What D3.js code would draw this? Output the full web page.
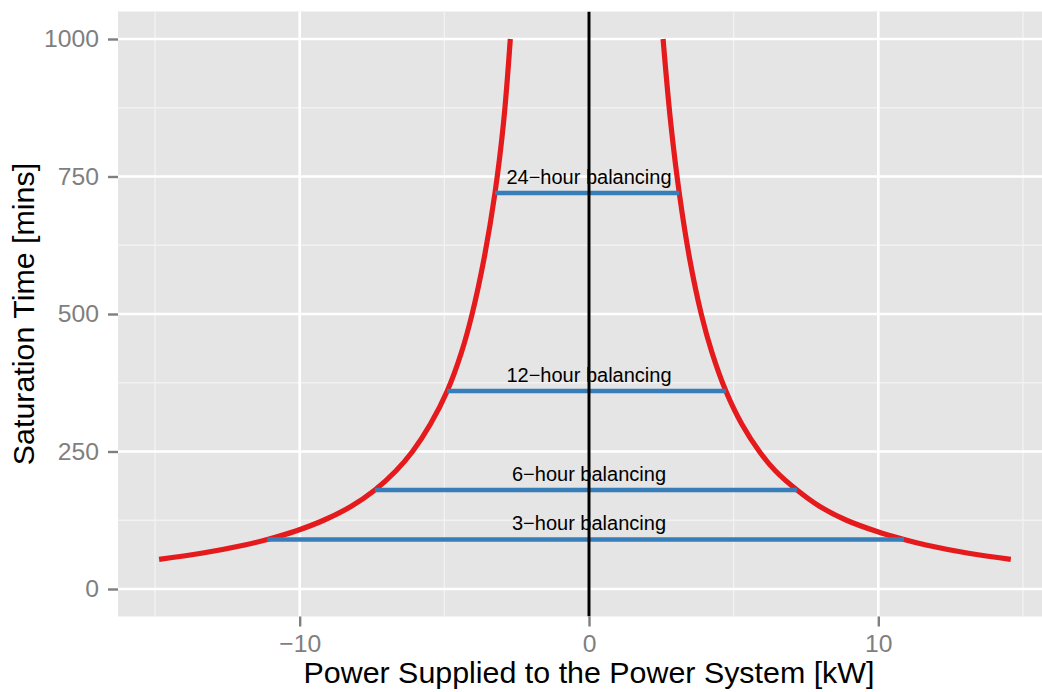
<!DOCTYPE html>
<html>
<head>
<meta charset="utf-8">
<script src="https://cdn.jsdelivr.net/npm/d3@7"></script>
<style>
  html, body { margin: 0; padding: 0; background: #fff; }
  svg { display: block; }
  text { font-family: "Liberation Sans", Arial, Helvetica, sans-serif; }
</style>
</head>
<body>
<svg id="chart" width="1042" height="692"></svg>
<script>
// ---- data ----
// left branch (negative kW): power and saturation time
const leftPower = [-14.86, -13.40, -11.90, -11.12, -10.16, -9.17, -8.23, -7.40, -6.67, -6.10, -5.48, -4.90, -4.41, -4.04, -3.63, -3.25, -2.95, -2.72];
const leftTime  = [54, 65, 80, 90, 105, 125, 150, 180, 215, 250, 300, 360, 430, 500, 600, 720, 850, 1000];
// right branch (positive kW)
const rightPower = [14.58, 13.12, 11.65, 10.89, 9.93, 8.90, 7.98, 7.19, 6.44, 5.89, 5.28, 4.73, 4.25, 3.88, 3.48, 3.12, 2.82, 2.56];
const rightTime  = [54, 65, 80, 90, 105, 125, 150, 180, 215, 250, 300, 360, 430, 500, 600, 720, 850, 1000];
// balancing segments
const balanceLabels = ["3\u2212hour balancing", "6\u2212hour balancing", "12\u2212hour balancing", "24\u2212hour balancing"];
const balanceTime   = [90, 180, 360, 720];
const balanceLeft   = [-11.12, -7.40, -4.90, -3.25];
const balanceRight  = [10.89, 7.19, 4.73, 3.12];
// axis ticks
const xTicks = [-10, 0, 10];
const xMinor = [-15, -5, 5, 15];
const yTicks = [0, 250, 500, 750, 1000];
const yMinor = [125, 375, 625, 875];

// ---- layout ----
const svg = d3.select("#chart");
const panel = { left: 118, right: 1060, top: 11.5, bottom: 616.5 };
const x = d3.scaleLinear().domain([-16.28, 16.28]).range([panel.left, panel.right]);
const y = d3.scaleLinear().domain([-50, 1050]).range([panel.bottom, panel.top]);

const grey50 = "#7f7f7f";

// panel background
svg.append("rect")
  .attr("x", panel.left).attr("y", panel.top)
  .attr("width", panel.right - panel.left).attr("height", panel.bottom - panel.top)
  .attr("fill", "#e5e5e5");

const grid = svg.append("g");
// minor grid
grid.selectAll(".ymin").data(yMinor).enter().append("line")
  .attr("x1", panel.left).attr("x2", panel.right)
  .attr("y1", d => y(d)).attr("y2", d => y(d))
  .attr("stroke", "#f2f2f2").attr("stroke-width", 1.3);
grid.selectAll(".xmin").data(xMinor).enter().append("line")
  .attr("y1", panel.top).attr("y2", panel.bottom)
  .attr("x1", d => x(d)).attr("x2", d => x(d))
  .attr("stroke", "#f2f2f2").attr("stroke-width", 1.3);
// major grid
grid.selectAll(".ymaj").data(yTicks).enter().append("line")
  .attr("x1", panel.left).attr("x2", panel.right)
  .attr("y1", d => y(d)).attr("y2", d => y(d))
  .attr("stroke", "#ffffff").attr("stroke-width", 2.6);
grid.selectAll(".xmaj").data(xTicks).enter().append("line")
  .attr("y1", panel.top).attr("y2", panel.bottom)
  .attr("x1", d => x(d)).attr("x2", d => x(d))
  .attr("stroke", "#ffffff").attr("stroke-width", 2.6);

// axes
const xAxis = d3.axisBottom(x).tickValues(xTicks).tickSize(10).tickPadding(8)
  .tickFormat(d => d < 0 ? "\u2212" + Math.abs(d) : String(d));
const gx = svg.append("g").attr("transform", `translate(0,${panel.bottom})`).call(xAxis);
gx.select(".domain").remove();
gx.selectAll(".tick line").attr("stroke", grey50).attr("stroke-width", 2.4);
gx.selectAll(".tick text").attr("fill", grey50).attr("font-size", 24.7)
  .attr("font-family", "Liberation Sans, Arial, sans-serif");

const yAxis = d3.axisLeft(y).tickValues(yTicks).tickSize(10).tickPadding(9).tickFormat(d3.format("d"));
const gy = svg.append("g").attr("transform", `translate(${panel.left},0)`).call(yAxis);
gy.select(".domain").remove();
gy.selectAll(".tick line").attr("stroke", grey50).attr("stroke-width", 2.4);
gy.selectAll(".tick text").attr("fill", grey50).attr("font-size", 24.7)
  .attr("font-family", "Liberation Sans, Arial, sans-serif");

// clip to the panel
svg.append("clipPath").attr("id", "pclip").append("rect")
  .attr("x", panel.left).attr("y", panel.top)
  .attr("width", panel.right - panel.left).attr("height", panel.bottom - panel.top);
const plot = svg.append("g").attr("clip-path", "url(#pclip)");

// saturation curves
const line = d3.line().x(d => x(d[0])).y(d => y(d[1])).curve(d3.curveCatmullRom.alpha(0.5));
const leftPts = leftPower.map((p, i) => [p, leftTime[i]]);
const rightPts = rightPower.map((p, i) => [p, rightTime[i]]);
[leftPts, rightPts].forEach(pts => {
  plot.append("path").datum(pts).attr("d", line)
    .attr("fill", "none").attr("stroke", "#e41a1c").attr("stroke-width", 5.2);
});

// balancing segments
const bal = balanceTime.map((t, i) => ({ t, l: balanceLeft[i], r: balanceRight[i], label: balanceLabels[i] }));
plot.selectAll(".bal").data(bal).enter().append("line")
  .attr("x1", d => x(d.l)).attr("x2", d => x(d.r))
  .attr("y1", d => y(d.t)).attr("y2", d => y(d.t))
  .attr("stroke", "#377eb8").attr("stroke-width", 4.5);
plot.selectAll(".lab").data(bal).enter().append("text")
  .attr("x", x(0)).attr("y", d => y(d.t + 30)).attr("dy", "0.36em")
  .attr("text-anchor", "middle").attr("font-size", 20).attr("fill", "#000")
  .text(d => d.label);

// vertical line at zero
plot.append("line")
  .attr("x1", x(0)).attr("x2", x(0)).attr("y1", panel.top).attr("y2", panel.bottom)
  .attr("stroke", "#000").attr("stroke-width", 3);

// axis titles
svg.append("text").attr("x", x(0)).attr("y", 683)
  .attr("text-anchor", "middle").attr("font-size", 30.4).attr("fill", "#000")
  .text("Power Supplied to the Power System [kW]");
svg.append("text")
  .attr("transform", `translate(34,${(panel.top + panel.bottom) / 2}) rotate(-90)`)
  .attr("text-anchor", "middle").attr("font-size", 30.4).attr("fill", "#000")
  .text("Saturation Time [mins]");
</script>
</body>
</html>
